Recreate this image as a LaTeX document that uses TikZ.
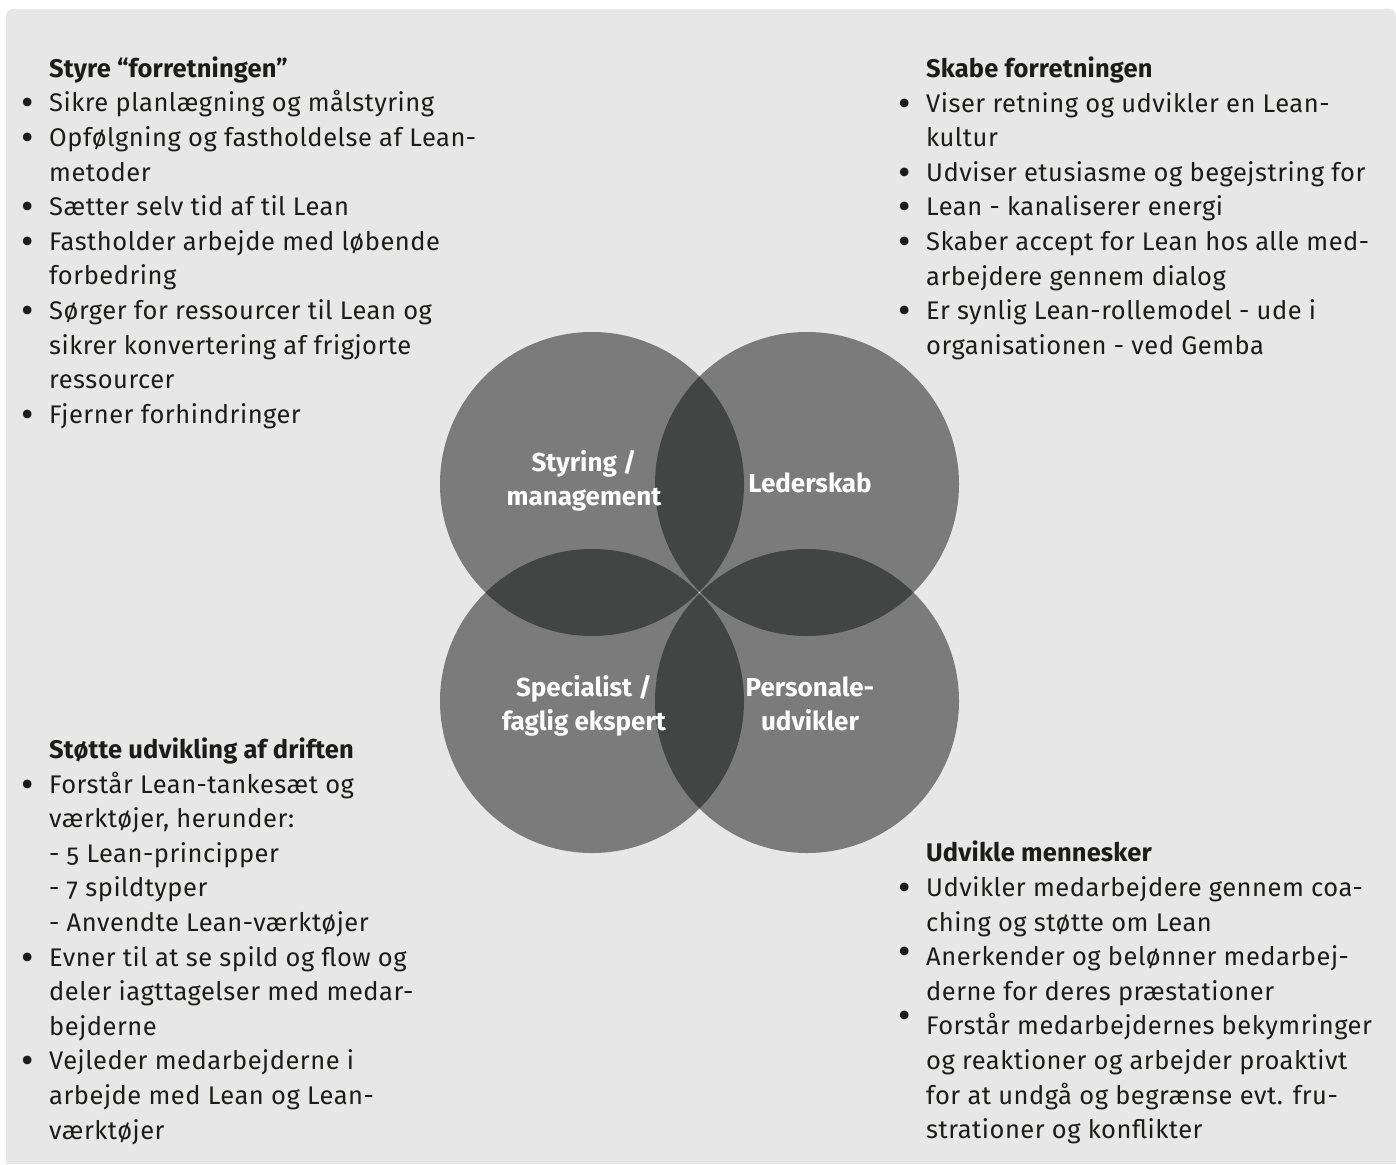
\documentclass[tikz,border=0pt]{standalone}
\usepackage{graphicx}
\usepackage{fontspec}
\setmainfont{Fira Sans}[Numbers=OldStyle]
\newfontfamily\bodyfont{Fira Sans}[Numbers=OldStyle, LetterSpace=2.0,
  BoldFeatures={LetterSpace=0.6}]
\definecolor{panel}{RGB}{230,231,230}
\definecolor{ring}{RGB}{122,123,122}
\definecolor{lens}{RGB}{67,69,68}
\definecolor{ink}{RGB}{28,28,27}
% hanging bullet set into the left margin of a block
\newcommand\bulmark[1]{\raisebox{#1}{\scalebox{1.5}{\textbullet}}}
\newcommand\bul{\llap{\bulmark{-4pt}\hspace{15pt}}}
\newcommand\bulhi[1]{\llap{\bulmark{#1}\hspace{15pt}}}
\tikzset{
  block/.style={anchor=north west, inner sep=0pt, align=left, text=ink,
    font=\bodyfont\fontsize{25.5}{34.6}\selectfont},
  ringlabel/.style={inner sep=0pt, align=center, text=white,
    font=\bfseries\fontsize{26}{34}\selectfont},
}
\begin{document}
\begin{tikzpicture}[x=1pt,y=-1pt]
\useasboundingbox (0,0) rectangle (1396,1164);
\fill[white] (0,0) rectangle (1396,1164);
% panel with rounded top corners
\fill[panel] (6,1164) -- (6,16) arc[start angle=180,end angle=90,radius=7pt]
  -- (1389,9) arc[start angle=90,end angle=0,radius=7pt] -- (1396,1164) -- cycle;

% four overlapping circles
\coordinate (cTL) at (592,484);
\coordinate (cTR) at (807,484);
\coordinate (cBL) at (592,701);
\coordinate (cBR) at (807,701);
\foreach \c in {cTL,cTR,cBL,cBR}
  \fill[ring] (\c) circle[radius=152pt];
\foreach \a/\b in {cTL/cTR,cTL/cBL,cTR/cBR,cBL/cBR}{
  \begin{scope}
    \clip (\a) circle[radius=152pt];
    \fill[lens] (\b) circle[radius=152pt];
  \end{scope}
}

% circle labels
\node[ringlabel] (lblTL) at (584,481.2) {\strut Styring /\\\strut management};
\node[ringlabel] (lblTR) at (810,485.2) {\strut Lederskab};
\node[ringlabel] (lblBL) at (584,706.2) {\strut Specialist /\\\strut faglig ekspert};
\node[ringlabel] (lblBR) at (810,706.2) {\strut Personale-\\\strut udvikler};

% text blocks
\node[block] (txtTL) at (49,52.8) {\strut\textbf{Styre “forretningen”}\\
\bul Sikre planlægning og målstyring\\
\bul Opfølgning og fastholdelse af Lean-\\
metoder\\
\bul Sætter selv tid af til Lean\\
\bul Fastholder arbejde med løbende\\
forbedring\\
\bul Sørger for ressourcer til Lean og\\
sikrer konvertering af frigjorte\\
ressourcer\\
\bul Fjerner forhindringer};

\node[block] (txtTR) at (926,53.1) {\strut\textbf{Skabe forretningen}\\
\bul Viser retning og udvikler en Lean-\\
kultur\\
\bul Udviser etusiasme og begejstring for\\
\bul Lean - kanaliserer energi\\
\bul Skaber accept for Lean hos alle med-\\
arbejdere gennem dialog\\
\bul Er synlig Lean-rollemodel - ude i\\
organisationen - ved Gemba};

\node[block] (txtBL) at (49,734.1) {\strut\textbf{Støtte udvikling af driften}\\
\bul Forstår Lean-tankesæt og\\
værktøjer, herunder:\\
- 5 Lean-principper\\
- 7 spildtyper\\
- Anvendte Lean-værktøjer\\
\bul Evner til at se spild og flow og\\
deler iagttagelser med medar-\\
bejderne\\
\bul Vejleder medarbejderne i\\
arbejde med Lean og Lean-\\
værktøjer};

\node[block] (txtBR) at (926,837.5) {\strut\textbf{Udvikle mennesker}\\
\bul Udvikler medarbejdere gennem coa-\\
ching og støtte om Lean\\
\bulhi{1pt}Anerkender og belønner medarbej-\\
derne for deres præstationer\\
\bulhi{6pt}Forstår medarbejdernes bekymringer\\
og reaktioner og arbejder proaktivt\\
for at undgå og begrænse evt. fru-\\
strationer og konflikter};
\end{tikzpicture}
\end{document}
